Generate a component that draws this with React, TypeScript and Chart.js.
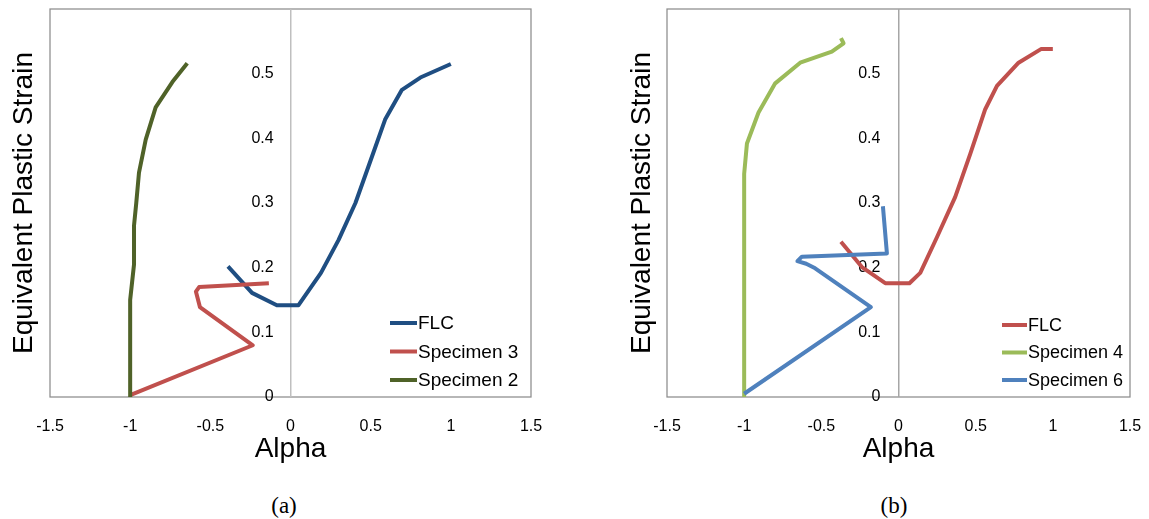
import React, { useEffect, useRef } from "react";
import { Chart, registerables } from "chart.js";

Chart.register(...registerables);

// ---------- Data ----------
const X_RANGE = [-1.5, 1.5];
const Y_RANGE = [0, 0.6];
const X_STEP = 0.5;
const Y_STEP = 0.1;

// Panel (a)
const A_FLC_X = [-0.39, -0.24, -0.085, 0.05, 0.19, 0.3, 0.405, 0.51, 0.59, 0.695, 0.81, 1.0];
const A_FLC_Y = [0.202, 0.161, 0.142, 0.142, 0.192, 0.243, 0.3, 0.373, 0.429, 0.475, 0.494, 0.515];
const A_SPEC3_X = [-1.0, -0.235, -0.565, -0.59, -0.57, -0.135];
const A_SPEC3_Y = [0.003, 0.08, 0.139, 0.163, 0.17, 0.176];
const A_SPEC2_X = [-1.0, -1.0, -0.976, -0.976, -0.962, -0.945, -0.903, -0.841, -0.737, -0.644];
const A_SPEC2_Y = [0.0, 0.15, 0.205, 0.265, 0.3, 0.347, 0.398, 0.448, 0.487, 0.516];

// Panel (b)
const B_FLC_X = [-0.373, -0.237, -0.086, 0.071, 0.141, 0.249, 0.367, 0.465, 0.562, 0.638, 0.778, 0.923, 1.0];
const B_FLC_Y = [0.24, 0.201, 0.176, 0.176, 0.192, 0.247, 0.309, 0.376, 0.445, 0.481, 0.517, 0.538, 0.538];
const B_SPEC4_X = [-1.0, -1.0, -0.982, -0.907, -0.799, -0.637, -0.432, -0.356, -0.373];
const B_SPEC4_Y = [0.0, 0.345, 0.392, 0.44, 0.485, 0.517, 0.534, 0.547, 0.555];
const B_SPEC6_X = [-1.0, -0.179, -0.54, -0.598, -0.655, -0.626, -0.075, -0.101];
const B_SPEC6_Y = [0.005, 0.139, 0.199, 0.206, 0.21, 0.217, 0.222, 0.295];

const A_LABELS = ["FLC", "Specimen 3", "Specimen 2"];
const B_LABELS = ["FLC", "Specimen 4", "Specimen 6"];
const A_COLORS = ["#1F4E82", "#C0504D", "#4F6228"];
const B_COLORS = ["#C0504D", "#9BBB59", "#4F81BD"];

const X_TITLE = "Alpha";
const Y_TITLE = "Equivalent Plastic Strain";

const FONT = "'Liberation Sans', Arial, Helvetica, sans-serif";

function pts(xs: number[], ys: number[]) {
  return xs.map((x, i) => ({ x, y: ys[i] }));
}

const framePlugin = {
  id: "frame",
  beforeDraw(chart: any, _args: any, opts: any) {
    const { left, top, right, bottom } = chart.chartArea;
    const ctx = chart.ctx;
    ctx.save();
    ctx.strokeStyle = opts.color || "#8C8C8C";
    ctx.lineWidth = opts.width || 1.25;
    ctx.strokeRect(left, top, right - left, bottom - top);
    ctx.restore();
  },
};

const legendPlugin = {
  id: "insideLegend",
  afterDraw(chart: any, _args: any, opts: any) {
    const ctx = chart.ctx;
    ctx.save();
    chart.data.datasets.forEach((ds: any, i: number) => {
      const y = opts.ys[i];
      ctx.strokeStyle = ds.borderColor;
      ctx.lineWidth = 4;
      ctx.lineCap = "butt";
      ctx.beginPath();
      ctx.moveTo(opts.x0, y);
      ctx.lineTo(opts.x1, y);
      ctx.stroke();
      ctx.fillStyle = "#000";
      ctx.font = `${opts.fontSize}px ${FONT}`;
      ctx.textBaseline = "middle";
      ctx.textAlign = "left";
      ctx.fillText(ds.label, opts.x1 + 1, y + 1);
    });
    ctx.restore();
  },
};

function fmt(v: number) {
  const r = Math.round(v * 10) / 10;
  return String(r);
}

type PanelSpec = {
  series: { label: string; color: string; xs: number[]; ys: number[] }[];
  y2Width: number;
  padRight: number;
  zeroColor: string;
  labelAxisAt: number;
  legend: { x0: number; x1: number; ys: number[]; fontSize: number };
};

function makeConfig(p: PanelSpec): any {
  const n = p.series.length;
  return {
    type: "scatter",
    data: {
      datasets: p.series.map((s, i) => ({
        label: s.label,
        data: pts(s.xs, s.ys),
        showLine: true,
        borderColor: s.color,
        backgroundColor: s.color,
        borderWidth: 4,
        pointRadius: 0,
        pointHoverRadius: 0,
        tension: 0,
        borderJoinStyle: "round",
        borderCapStyle: "butt",
        order: n - i,
        yAxisID: "y",
        xAxisID: "x",
      })),
    },
    options: {
      responsive: false,
      animation: false,
      devicePixelRatio: 1,
      layout: { padding: { left: 0, top: 9, right: p.padRight, bottom: 0 } },
      plugins: {
        legend: { display: false },
        tooltip: { enabled: false },
        frame: { color: "#8C8C8C", width: 1.25 },
        insideLegend: p.legend,
      },
      scales: {
        x: {
          type: "linear",
          position: "bottom",
          min: X_RANGE[0],
          max: X_RANGE[1],
          ticks: {
            stepSize: X_STEP,
            padding: 20,
            autoSkip: false,
            maxRotation: 0,
            color: "#000",
            font: { size: 16, family: FONT },
            callback: (v: number) => fmt(v),
          },
          grid: {
            display: true,
            drawTicks: false,
            drawOnChartArea: true,
            lineWidth: 1.5,
            color: (c: any) =>
              c.tick && Math.abs(c.tick.value) < 1e-9 ? p.zeroColor : "rgba(0,0,0,0)",
          },
          border: { display: false },
          title: {
            display: true,
            text: X_TITLE,
            color: "#000",
            font: { size: 28, family: FONT },
            padding: { top: 0, bottom: 4 },
          },
          afterFit: (s: any) => {
            s.height = 73;
            s.paddingLeft = 0;
            s.paddingRight = 0;
          },
        },
        y: {
          type: "linear",
          position: { x: p.labelAxisAt },
          min: Y_RANGE[0],
          max: Y_RANGE[1],
          ticks: {
            stepSize: Y_STEP,
            color: "#000",
            font: { size: 16, family: FONT },
            callback: (v: number) => (v > Y_RANGE[1] - 0.05 ? "" : fmt(v)),
          },
          grid: { display: false, drawTicks: false },
          border: { display: false },
          afterFit: (s: any) => {
            s.paddingTop = 0;
            s.paddingBottom = 0;
          },
        },
        y2: {
          type: "linear",
          position: "left",
          min: 0,
          max: 1,
          ticks: { display: false },
          grid: { display: false, drawTicks: false },
          border: { display: false },
          title: {
            display: true,
            text: Y_TITLE,
            color: "#000",
            font: { size: 28, family: FONT },
            padding: { top: 7, bottom: 0 },
          },
          afterFit: (s: any) => {
            s.width = p.y2Width;
            s.paddingTop = 0;
            s.paddingBottom = 0;
          },
        },
      },
    },
    plugins: [framePlugin, legendPlugin],
  };
}

const PANEL_A: PanelSpec = {
  series: [
    { label: A_LABELS[0], color: A_COLORS[0], xs: A_FLC_X, ys: A_FLC_Y },
    { label: A_LABELS[1], color: A_COLORS[1], xs: A_SPEC3_X, ys: A_SPEC3_Y },
    { label: A_LABELS[2], color: A_COLORS[2], xs: A_SPEC2_X, ys: A_SPEC2_Y },
  ],
  y2Width: 50,
  padRight: 44,
  zeroColor: "#BFBFBF",
  labelAxisAt: -0.105,
  legend: { x0: 390, x1: 417, ys: [323, 351.5, 380], fontSize: 19 },
};

const PANEL_B: PanelSpec = {
  series: [
    { label: B_LABELS[0], color: B_COLORS[0], xs: B_FLC_X, ys: B_FLC_Y },
    { label: B_LABELS[1], color: B_COLORS[1], xs: B_SPEC4_X, ys: B_SPEC4_Y },
    { label: B_LABELS[2], color: B_COLORS[2], xs: B_SPEC6_X, ys: B_SPEC6_Y },
  ],
  y2Width: 49,
  padRight: 19,
  zeroColor: "#A6A6A6",
  labelAxisAt: -0.117,
  legend: { x0: 384, x1: 409, ys: [325, 352.5, 380], fontSize: 18 },
};

function Panel({ spec, left, width, height }: { spec: PanelSpec; left: number; width: number; height: number }) {
  const ref = useRef<HTMLCanvasElement | null>(null);
  useEffect(() => {
    if (!ref.current) return;
    const chart = new Chart(ref.current, makeConfig(spec));
    return () => chart.destroy();
  }, [spec]);
  return (
    <canvas
      ref={ref}
      width={width}
      height={height}
      style={{ position: "absolute", left, top: 0, width, height }}
    />
  );
}

const captionStyle: React.CSSProperties = {
  position: "absolute",
  top: 492,
  width: 100,
  textAlign: "center",
  fontFamily: "'Liberation Serif', 'Times New Roman', serif",
  fontSize: 23,
  lineHeight: "27px",
  color: "#000",
};

export default function App() {
  return (
    <div
      style={{
        position: "absolute",
        left: 0,
        top: 0,
        width: 1149,
        height: 519,
        background: "#fff",
        overflow: "hidden",
      }}
    >
      <Panel spec={PANEL_A} left={0} width={575} height={470} />
      <Panel spec={PANEL_B} left={618} width={531} height={470} />
      <div style={{ ...captionStyle, left: 234 }}>(a)</div>
      <div style={{ ...captionStyle, left: 844 }}>(b)</div>
    </div>
  );
}
